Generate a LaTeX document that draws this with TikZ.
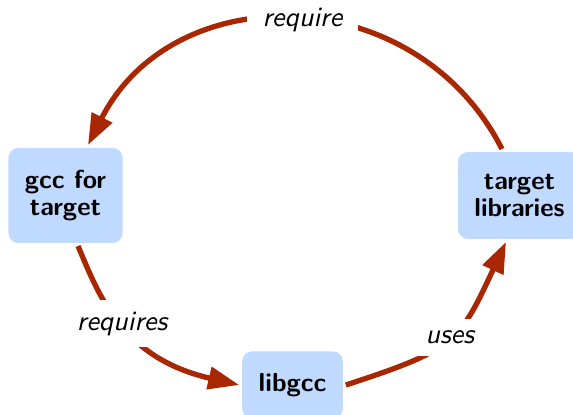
\documentclass[tikz,border=0pt]{standalone}
\usepackage{fontspec}
\setsansfont{lmsans10-regular.otf}[BoldFont=lmsans10-bold.otf,ItalicFont=lmsans10-oblique.otf,BoldItalicFont=lmsans10-boldoblique.otf]
\usetikzlibrary{arrows.meta}
\definecolor{boxblue}{RGB}{192,217,255}
\definecolor{arrred}{RGB}{168,38,0}
\begin{document}
\begin{tikzpicture}[x=1pt,y=1pt,
  box/.style={fill=boxblue, rounded corners=10pt, inner xsep=16.5pt, inner ysep=22pt, outer sep=3pt, align=center, font=\sffamily\bfseries\fontsize{26}{27.3}\selectfont},
  arr/.style={draw=arrred, line width=5.3pt, -{Triangle[length=31pt,width=22pt]}},
  lab/.style={fill=white, inner xsep=16pt, inner ysep=12pt, font=\sffamily\itshape\fontsize{28}{30}\selectfont}]
\useasboundingbox (0,0) rectangle (573,415);
\node[box] (gcc) at (65.5,219.5) {gcc for\\target};
\node[box] (tl) at (519.5,219.5) {target\\libraries};
\node[box] (lib) at (292.5,30) {libgcc};
\draw[arr] ([xshift=-17.5pt]tl.north) .. controls +(117:190) and +(63:190) .. ([xshift=22.5pt]gcc.north) node[lab,pos=0.485] {require};
\draw[arr] ([xshift=12.5pt]gcc.south) .. controls +(-67:53) and +(167:121) .. (lib.west) node[lab,pos=0.5] {requires};
\draw[arr] (lib.east) .. controls +(18:116) and +(245:110) .. ([xshift=-13.5pt]tl.south) node[lab,pos=0.5] {uses};
\end{tikzpicture}
\end{document}
